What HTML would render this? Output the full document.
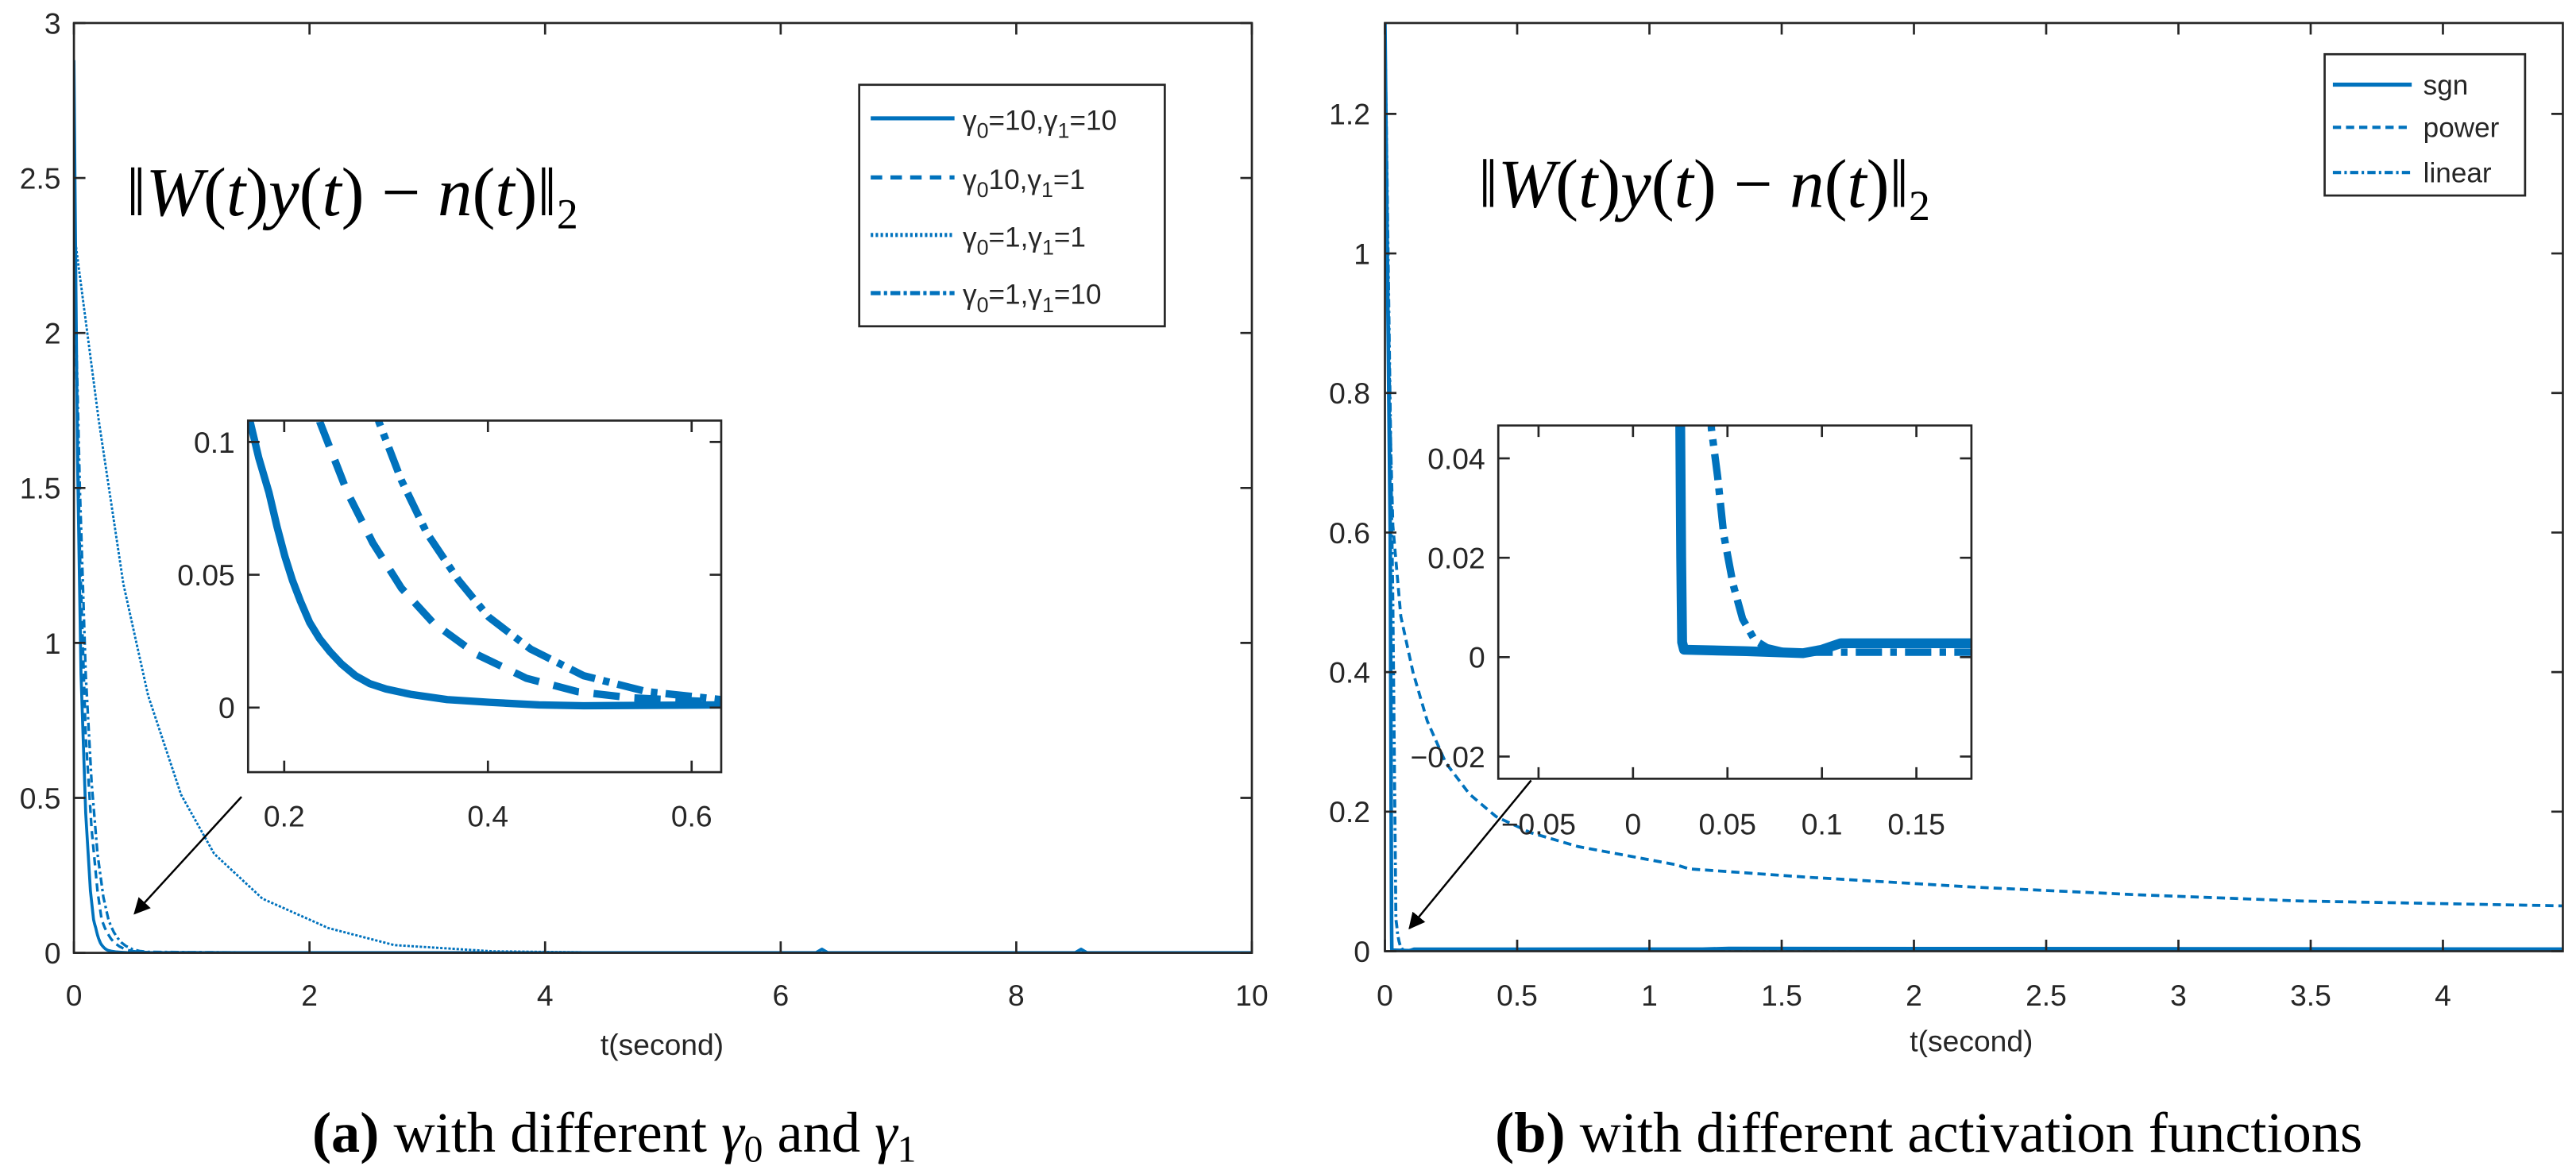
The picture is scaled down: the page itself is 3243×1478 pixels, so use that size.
<!DOCTYPE html>
<html><head><meta charset="utf-8"><style>
html,body{margin:0;padding:0;background:#fff;}
svg{display:block;}
text{font-family:"Liberation Sans",sans-serif;fill:#262626;}
.ser{font-family:"Liberation Serif",serif;fill:#000;}
</style></head><body>
<svg id="fig" xmlns="http://www.w3.org/2000/svg" width="3243" height="1478" viewBox="0 0 1568 714.6">
<rect x="0" y="0" width="1568" height="714.6" fill="#fff"/>
<defs>
<clipPath id="clipA"><rect x="45" y="14" width="717" height="566"/></clipPath>
<clipPath id="clipAi"><rect x="151" y="256" width="288" height="214"/></clipPath>
<clipPath id="clipB"><rect x="843" y="14" width="717" height="565"/></clipPath>
<clipPath id="clipBi"><rect x="912" y="259" width="288" height="215"/></clipPath>
<marker id="arr" markerWidth="10" markerHeight="10" refX="9" refY="5" orient="auto" markerUnits="userSpaceOnUse"><path d="M0,0 L10,5 L0,10 z" fill="#000"/></marker>
</defs>
<g id="panelA"></g>
<g id="panelB"></g>

<text class="ser" x="77" y="131" font-size="42">‖<tspan font-style="italic">W</tspan>(<tspan font-style="italic">t</tspan>)<tspan font-style="italic">y</tspan>(<tspan font-style="italic">t</tspan>) − <tspan font-style="italic">n</tspan>(<tspan font-style="italic">t</tspan>)‖<tspan font-size="26" dy="8">2</tspan></text>
<text class="ser" x="900" y="126" font-size="42">‖<tspan font-style="italic">W</tspan>(<tspan font-style="italic">t</tspan>)<tspan font-style="italic">y</tspan>(<tspan font-style="italic">t</tspan>) − <tspan font-style="italic">n</tspan>(<tspan font-style="italic">t</tspan>)‖<tspan font-size="26" dy="8">2</tspan></text>

<g>
<rect x="523" y="51.6" width="186" height="147" fill="#fff" stroke="#262626" stroke-width="1.3"/>
<g><line x1="530" y1="72" x2="581" y2="72" stroke="#0072BD" stroke-width="2.5"/><text x="586" y="79" font-size="17">γ<tspan font-size="13" dy="5">0</tspan><tspan dy="-5">=10,γ</tspan><tspan font-size="13" dy="5">1</tspan><tspan dy="-5">=10</tspan></text></g>
<g><line x1="530" y1="108" x2="581" y2="108" stroke="#0072BD" stroke-width="2.5" stroke-dasharray="7,5"/><text x="586" y="115" font-size="17">γ<tspan font-size="13" dy="5">0</tspan><tspan dy="-5">10,γ</tspan><tspan font-size="13" dy="5">1</tspan><tspan dy="-5">=1</tspan></text></g>
<g><line x1="530" y1="143" x2="581" y2="143" stroke="#0072BD" stroke-width="2.5" stroke-dasharray="1.5,1.5"/><text x="586" y="150" font-size="17">γ<tspan font-size="13" dy="5">0</tspan><tspan dy="-5">=1,γ</tspan><tspan font-size="13" dy="5">1</tspan><tspan dy="-5">=1</tspan></text></g>
<g><line x1="530" y1="178.4" x2="581" y2="178.4" stroke="#0072BD" stroke-width="2.5" stroke-dasharray="6,2,2,2"/><text x="586" y="185" font-size="17">γ<tspan font-size="13" dy="5">0</tspan><tspan dy="-5">=1,γ</tspan><tspan font-size="13" dy="5">1</tspan><tspan dy="-5">=10</tspan></text></g>
</g>

<g>
<rect x="1415" y="33" width="122" height="86" fill="#fff" stroke="#262626" stroke-width="1.3"/>
<g><line x1="1420" y1="51.5" x2="1468" y2="51.5" stroke="#0072BD" stroke-width="2.5"/><text x="1475" y="57.5" font-size="17">sgn</text></g>
<g><line x1="1420" y1="77.5" x2="1468" y2="77.5" stroke="#0072BD" stroke-width="2" stroke-dasharray="5,3"/><text x="1475" y="83.5" font-size="17">power</text></g>
<g><line x1="1420" y1="105" x2="1468" y2="105" stroke="#0072BD" stroke-width="2" stroke-dasharray="5,2,1.5,2"/><text x="1475" y="111" font-size="17">linear</text></g>
</g>

<line x1="147" y1="485" x2="82" y2="556" stroke="#000" stroke-width="1.2" marker-end="url(#arr)"/>
<line x1="932" y1="475" x2="858" y2="565" stroke="#000" stroke-width="1.2" marker-end="url(#arr)"/>

<text x="403" y="642" font-size="18" text-anchor="middle">t(second)</text>
<text x="1200" y="640" font-size="18" text-anchor="middle">t(second)</text>

<text class="ser" x="190" y="701" font-size="35"><tspan font-weight="bold">(a)</tspan> with different <tspan font-style="italic">γ</tspan><tspan font-size="23" dy="6">0</tspan><tspan dy="-6"> and </tspan><tspan font-style="italic">γ</tspan><tspan font-size="23" dy="6">1</tspan></text>
<text class="ser" x="910" y="701" font-size="35"><tspan font-weight="bold">(b)</tspan> with different activation functions</text>
</svg>
<script>
// ---- Panel (a) data ----
const aXTicks = [0, 2, 4, 6, 8, 10];
const aYTicks = [0, 0.5, 1, 1.5, 2, 2.5, 3];
const aYTickLabels = ["0", "0.5", "1", "1.5", "2", "2.5", "3"];
const aInsetXTicks = [0.2, 0.4, 0.6];
const aInsetYTicks = [0, 0.05, 0.1];
const aInsetYTickLabels = ["0", "0.05", "0.1"];
const g1010T = [0, 0.03, 0.06, 0.1, 0.14, 0.1666, 0.175, 0.185, 0.193, 0.2006, 0.208, 0.216, 0.225, 0.2346, 0.245, 0.256, 0.27, 0.284, 0.3, 0.324, 0.36, 0.401, 0.45, 0.494, 0.629, 1.5, 3, 6.3, 6.35, 6.4, 8.5, 8.55, 8.6, 10];
const g1010V = [2.88, 1.6, 0.9, 0.45, 0.2, 0.1075, 0.094, 0.081, 0.068, 0.057, 0.048, 0.040, 0.032, 0.026, 0.021, 0.0165, 0.012, 0.009, 0.007, 0.005, 0.003, 0.002, 0.001, 0.0007, 0.001, 0.001, 0.001, 0.001, 0.012, 0.001, 0.001, 0.012, 0.001, 0.001];
const g101T = [0, 0.05, 0.1, 0.15, 0.2, 0.235, 0.262, 0.287, 0.315, 0.346, 0.389, 0.438, 0.488, 0.54, 0.629, 1.5, 10];
const g101V = [2.3, 1.3, 0.7, 0.4, 0.2, 0.1075, 0.081, 0.062, 0.045, 0.032, 0.02, 0.011, 0.006, 0.0037, 0.002, 0.001, 0.001];
const g11T = [0, 0.21, 0.42, 0.63, 0.91, 1.19, 1.6, 2.16, 2.72, 3.56, 4.5, 10];
const g11V = [2.33, 1.72, 1.19, 0.83, 0.51, 0.32, 0.175, 0.08, 0.025, 0.005, 0.001, 0.001];
const g110T = [0, 0.05, 0.1, 0.15, 0.2, 0.25, 0.293, 0.315, 0.34, 0.371, 0.401, 0.442, 0.494, 0.556, 0.629, 1.5, 10];
const g110V = [2.3, 1.5, 0.9, 0.55, 0.32, 0.18, 0.1075, 0.0856, 0.0657, 0.048, 0.034, 0.022, 0.012, 0.006, 0.003, 0.001, 0.001];

// ---- Panel (b) data ----
const bXTicks = [0, 0.5, 1, 1.5, 2, 2.5, 3, 3.5, 4];
const bXTickLabels = ["0", "0.5", "1", "1.5", "2", "2.5", "3", "3.5", "4"];
const bYTicks = [0, 0.2, 0.4, 0.6, 0.8, 1, 1.2];
const bYTickLabels = ["0", "0.2", "0.4", "0.6", "0.8", "1", "1.2"];
const bInsetXTicks = [-0.05, 0, 0.05, 0.1, 0.15];
const bInsetXTickLabels = ["\u22120.05", "0", "0.05", "0.1", "0.15"];
const bInsetYTicks = [-0.02, 0, 0.02, 0.04];
const bInsetYTickLabels = ["\u22120.02", "0", "0.02", "0.04"];
const sgnT = [0, 0.02, 0.025, 0.0255, 0.026, 0.027, 0.06, 0.09, 0.1, 0.11, 0.18, 1.2, 1.3, 4.45];
const sgnV = [1.33, 0.6, 0.0465, 0.02, 0.003, 0.0015, 0.0012, 0.0008, 0.0015, 0.0028, 0.0028, 0.003, 0.004, 0.003];
const powerT = [0, 0.01, 0.02, 0.03, 0.06, 0.106, 0.16, 0.23, 0.32, 0.42, 0.55, 0.73, 1.1, 1.15, 1.6, 2.22, 2.84, 3.46, 4.45];
const powerV = [1.33, 1.0, 0.75, 0.61, 0.48, 0.40, 0.33, 0.27, 0.225, 0.193, 0.17, 0.15, 0.124, 0.118, 0.106, 0.092, 0.081, 0.072, 0.065];
const linearT = [0, 0.03, 0.0415, 0.0448, 0.048, 0.053, 0.058, 0.0645, 0.071, 0.081, 0.18, 4.45];
const linearV = [1.33, 0.5, 0.046, 0.0363, 0.0247, 0.0146, 0.0077, 0.0034, 0.0019, 0.001, 0.001, 0.002];

const NS = "http://www.w3.org/2000/svg";
const AX = "#262626", BLUE = "#0072BD";
function mk(parent, tag, attrs) {
  const e = document.createElementNS(NS, tag);
  for (const k in attrs) e.setAttribute(k, attrs[k]);
  parent.appendChild(e);
  return e;
}
function scale(d0, d1, r0, r1) { return v => r0 + (v - d0) / (d1 - d0) * (r1 - r0); }

function drawAxes(g, box, xs, ys, xt, xl, yt, yl, fs, xLabY, yLabX, name) {
  const fr = mk(g, "rect", {x: box.x, y: box.y, width: box.w, height: box.h, fill: "none", stroke: AX, "stroke-width": 1.3});
  
  
  const tl = 7;
  xt.forEach((v, i) => {
    const x = xs(v);
    const t = mk(g, "path", {d: `M${x},${box.y + box.h}v${-tl}M${x},${box.y}v${tl}`, stroke: AX, "stroke-width": 1.3});
    
    
    const lb = mk(g, "text", {x: x, y: xLabY, "font-size": fs, "text-anchor": "middle"});
    lb.textContent = xl[i];
    
    
  });
  yt.forEach((v, i) => {
    const y = ys(v);
    const t = mk(g, "path", {d: `M${box.x},${y}h${tl}M${box.x + box.w},${y}h${-tl}`, stroke: AX, "stroke-width": 1.3});
    
    
    const lb = mk(g, "text", {x: yLabX, y: y + fs * 0.36, "font-size": fs, "text-anchor": "end"});
    lb.textContent = yl[i];
    
    
  });
}
function series(g, T, V, xs, ys, clip, width, dash, name) {
  const d = T.map((t, i) => (i ? "L" : "M") + xs(t).toFixed(2) + "," + ys(V[i]).toFixed(2)).join("");
  const attrs = {d: d, fill: "none", stroke: BLUE, "stroke-width": width, "stroke-linejoin": "round", "clip-path": "url(#" + clip + ")"};
  if (dash) attrs["stroke-dasharray"] = dash;
  const p = mk(g, "path", attrs);
  
  
}

// Panel A
const gA = document.getElementById("panelA");
const boxA = {x: 45, y: 14, w: 717, h: 566};
const axs = scale(0, 10, 45, 762), ays = scale(0, 3, 580, 14);
series(gA, g11T, g11V, axs, ays, "clipA", 1.4, "1.5,1", "series-g0-1-g1-1");
series(gA, g110T, g110V, axs, ays, "clipA", 1.6, "5,2,1.5,2", "series-g0-1-g1-10");
series(gA, g101T, g101V, axs, ays, "clipA", 1.6, "5,3", "series-g0-10-g1-1");
series(gA, g1010T, g1010V, axs, ays, "clipA", 1.8, null, "series-g0-10-g1-10");
drawAxes(gA, boxA, axs, ays, aXTicks, aXTicks.map(String), aYTicks, aYTickLabels, 18, 612, 37, "main-a");
// inset A
const boxAi = {x: 151, y: 256, w: 288, h: 214};
const bgAi = mk(gA, "rect", {x: 151, y: 256, width: 288, height: 214, fill: "#fff"});


const aixs = scale(0.2, 0.6, 173, 421), aiys = scale(0, 0.1, 430.7, 269);
series(gA, g110T, g110V, aixs, aiys, "clipAi", 4.5, "16,5,4,5", "inset-series-g0-1-g1-10");
series(gA, g101T, g101V, aixs, aiys, "clipAi", 4.5, "16,9", "inset-series-g0-10-g1-1");
series(gA, g1010T, g1010V, aixs, aiys, "clipAi", 4.5, null, "inset-series-g0-10-g1-10");
drawAxes(gA, boxAi, aixs, aiys, aInsetXTicks, aInsetXTicks.map(String), aInsetYTicks, aInsetYTickLabels, 18, 503, 143, "inset-a");

// Panel B
const gB = document.getElementById("panelB");
const boxB = {x: 843, y: 14, w: 717, h: 565};
const bxs = scale(0, 4, 843, 1487), bys = scale(0, 1.2, 579, 69.3);
series(gB, powerT, powerV, bxs, bys, "clipB", 1.8, "5,3", "series-power");
series(gB, linearT, linearV, bxs, bys, "clipB", 1.8, "5,2,1.5,2", "series-linear");
series(gB, sgnT, sgnV, bxs, bys, "clipB", 2.2, null, "series-sgn");
drawAxes(gB, boxB, bxs, bys, bXTicks, bXTickLabels, bYTicks, bYTickLabels, 18, 612, 834, "main-b");
const boxBi = {x: 912, y: 259, w: 288, h: 215};
const bgBi = mk(gB, "rect", {x: 912, y: 259, width: 288, height: 215, fill: "#fff"});


const bixs = scale(0, 0.1, 994, 1109), biys = scale(0, 0.04, 400, 279);
series(gB, powerT, powerV, bixs, biys, "clipBi", 4.5, "16,9", "inset-series-power");
series(gB, linearT, linearV, bixs, biys, "clipBi", 4.5, "16,5,4,5", "inset-series-linear");
series(gB, sgnT, sgnV, bixs, biys, "clipBi", 6, null, "inset-series-sgn");
drawAxes(gB, boxBi, bixs, biys, bInsetXTicks, bInsetXTickLabels, bInsetYTicks, bInsetYTickLabels, 18, 508, 904, "inset-b");
</script>
</body></html>
